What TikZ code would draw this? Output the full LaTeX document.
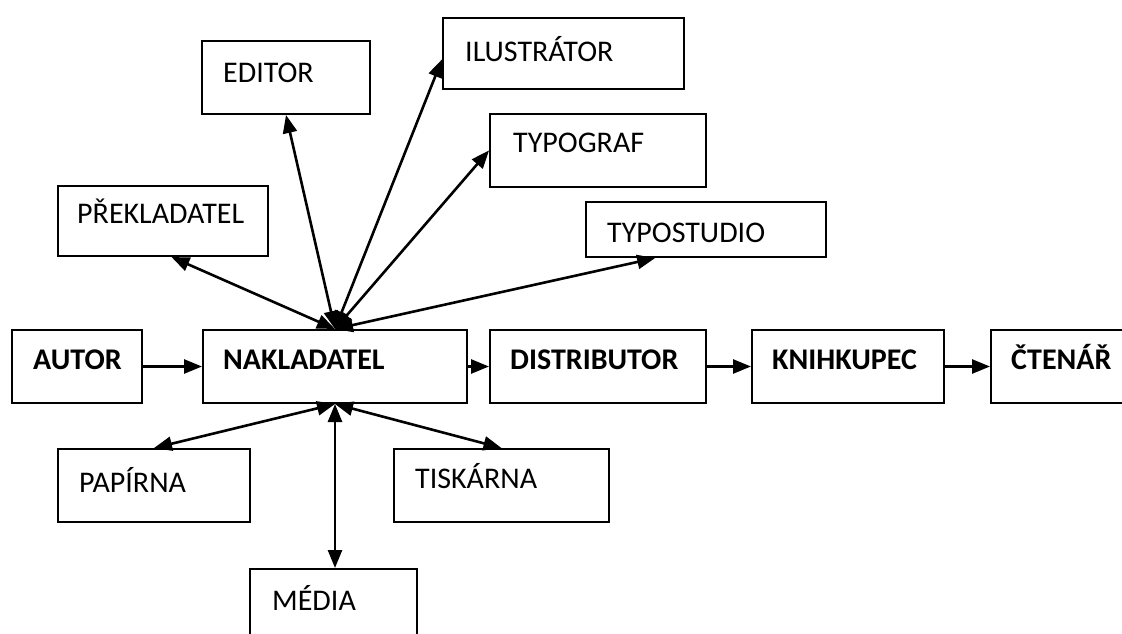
\documentclass[tikz,border=0pt]{standalone}
\usepackage{fontspec}
\setmainfont{Carlito}
\usetikzlibrary{arrows.meta,calc}
\begin{document}
\begin{tikzpicture}[x=1pt,y=-1pt,
  box/.style={draw, line width=2pt, inner sep=0pt, rectangle, anchor=north west},
  lbl/.style={anchor=base west, inner sep=0pt, font=\fontsize{30}{35}\selectfont},
  blbl/.style={anchor=base west, inner sep=0pt, font=\fontsize{30}{35}\selectfont\bfseries},
  tip/.tip={Triangle[length=18pt,width=14pt]},
  conn/.style={line width=2.6pt, -tip},
  both/.style={line width=2.6pt, tip-tip}]
\path[use as bounding box, clip] (0,0) rectangle (1122,634);
\fill[white] (0,0) rectangle (1122,634);
% main row
\node[box, minimum width=130pt, minimum height=73pt] (autor) at (11,329) {};
\node[box, minimum width=264pt, minimum height=73pt] (nak) at (202,329) {};
\node[box, minimum width=216pt, minimum height=73pt] (dist) at (489,329) {};
\node[box, minimum width=192pt, minimum height=73pt] (knih) at (751,329) {};
\node[box, minimum width=160pt, minimum height=73pt] (cten) at (990,329) {};
\node[blbl] (autorT) at ($(autor.north west)+(22,40)$) {AUTOR};
\node[blbl] (nakT) at ($(nak.north west)+(21,40)$) {NAKLADATEL};
\node[blbl] (distT) at ($(dist.north west)+(21,40)$) {DISTRIBUTOR};
\node[blbl] (knihT) at ($(knih.north west)+(21,40)$) {KNIHKUPEC};
\node[blbl] (ctenT) at ($(cten.north west)+(21,40)$) {ČTENÁŘ};
% upper boxes
\node[box, minimum width=210pt, minimum height=70pt] (prek) at (57,185) {};
\node[box, minimum width=168pt, minimum height=73pt] (edit) at (201,40) {};
\node[box, minimum width=241pt, minimum height=71pt] (ilus) at (442,17) {};
\node[box, minimum width=216pt, minimum height=73pt] (typg) at (489,113) {};
\node[box, minimum width=240pt, minimum height=55pt] (tstud) at (585,201) {};
\node[lbl] (prekT) at ($(prek.north west)+(20,38)$) {PŘEKLADATEL};
\node[lbl] (editT) at ($(edit.north west)+(22,43)$) {EDITOR};
\node[lbl] (ilusT) at ($(ilus.north west)+(23,45)$) {ILUSTRÁTOR};
\node[lbl] (typgT) at ($(typg.north west)+(24,39)$) {TYPOGRAF};
\node[lbl] (tstudT) at ($(tstud.north west)+(22,41)$) {TYPOSTUDIO};
% lower boxes
\node[box, minimum width=192pt, minimum height=73pt] (pap) at (57,448) {};
\node[box, minimum width=215pt, minimum height=73pt] (tisk) at (393,448) {};
\node[box, minimum width=167pt, minimum height=90pt] (med) at (249,568) {};
\node[lbl] (papT) at ($(pap.north west)+(22,44)$) {PAPÍRNA};
\node[lbl] (tiskT) at ($(tisk.north west)+(22,40)$) {TISKÁRNA};
\node[lbl] (medT) at ($(med.north west)+(23,42)$) {MÉDIA};
% main row connectors
\draw[conn] (autor.east) -- (nak.west);
\draw[conn] (nak.east) -- (dist.west);
\draw[conn] (dist.east) -- (knih.west);
\draw[conn] (knih.east) -- (cten.west);
% upper connectors
\coordinate (prekP) at ($(prek.south west)!0.54!(prek.south east)$);
\coordinate (ilusP) at ($(ilus.north west)!0.58!(ilus.south west)$);
\coordinate (tstudP) at ($(tstud.south west)!0.29!(tstud.south east)$);
\draw[both] (nak.north) -- (prekP);
\draw[both] (nak.north) -- (edit.south);
\draw[both] (nak.north) -- (ilusP);
\draw[both] (nak.north) -- (typg.west);
\draw[both] (nak.north) -- (tstudP);
% lower connectors
\draw[both] (nak.south) -- (pap.north);
\draw[both] (nak.south) -- (tisk.north);
\draw[both] (nak.south) -- (nak.south |- med.north);
\end{tikzpicture}
\end{document}
